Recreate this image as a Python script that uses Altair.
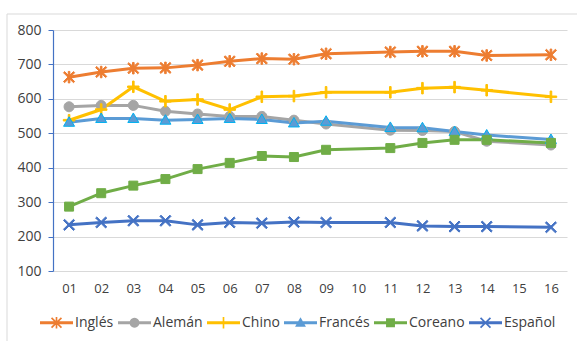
import math
import altair as alt
import pandas as pd

# ---------------- data ----------------
years = ["01", "02", "03", "04", "05", "06", "07", "08", "09", "10",
         "11", "12", "13", "14", "15", "16"]
data_years = ["01", "02", "03", "04", "05", "06", "07", "08", "09",
              "11", "12", "13", "14", "16"]
series = ["Inglés", "Alemán", "Chino", "Francés", "Coreano", "Español"]

ingles = [663, 678, 689, 690, 698, 709, 717, 715, 731, 736, 738, 738, 726, 728]
aleman = [577, 581, 581, 564, 556, 549, 549, 538, 527, 509, 508, 505, 477, 466]
chino = [538, 569, 635, 593, 598, 569, 606, 608, 619, 619, 631, 634, 625, 606]
frances = [532, 543, 543, 538, 540, 543, 540, 530, 535, 517, 516, 505, 495, 482]
coreano = [287, 326, 348, 367, 396, 414, 434, 431, 452, 457, 472, 481, 481, 472]
espanol = [234, 241, 246, 246, 234, 241, 239, 242, 241, 241, 231, 229, 229, 227]

y_ticks = [100, 200, 300, 400, 500, 600, 700, 800]

colors = ["#ED7D31", "#A5A5A5", "#FFC000", "#5B9BD5", "#70AD47", "#4472C4"]
outline = ["#ED7D31", "#A5A5A5", "#FFC000", "#00B0F0", "#70AD47", "#4472C4"]

rows = []
for name, vals in zip(series, [ingles, aleman, chino, frances, coreano, espanol]):
    for yr, v in zip(data_years, vals):
        rows.append({"Año": yr, "Idioma": name, "valor": v})
df = pd.DataFrame(rows)

# ---------------- marker paths (all filled, clockwise) ----------------
def f(v):
    return f"{v:.3f}"

def poly(pts):
    return "M" + " L".join(f"{f(x)},{f(y)}" for x, y in pts) + " Z"

def rect(x0, y0, x1, y1):
    return poly([(x0, y0), (x1, y0), (x1, y1), (x0, y1)])

def diag1(d, t):
    a = t / math.sqrt(2)
    return poly([(-d - a, -d + a), (-d + a, -d - a), (d + a, d - a), (d - a, d + a)])

def diag2(d, t):
    a = t / math.sqrt(2)
    return poly([(-d - a, d - a), (d - a, -d - a), (d + a, -d + a), (-d + a, d + a)])

def circle(r, n=24):
    return poly([(r * math.cos(2 * math.pi * i / n), r * math.sin(2 * math.pi * i / n)) for i in range(n)])

def marker(kind, r, t):
    if kind == "star":
        return diag1(r, t) + " " + diag2(r, t) + " " + rect(-t, -1.15 * r, t, 1.15 * r)
    if kind == "circle":
        return circle(r)
    if kind == "plus":
        return rect(-t, -1.15 * r, t, 1.15 * r) + " " + rect(-1.15 * r, -t, 1.15 * r, t)
    if kind == "triangle":
        return poly([(0, -1.1 * r), (1.1 * r, 0.8 * r), (-1.1 * r, 0.8 * r)])
    if kind == "square":
        return rect(-0.9 * r, -0.9 * r, 0.9 * r, 0.9 * r)
    if kind == "x":
        return diag1(r, t) + " " + diag2(r, t)

kinds = ["star", "circle", "plus", "triangle", "square", "x"]
point_paths = [marker(k, 1.0, 0.16) for k in kinds]
legend_paths = [rect(-1, -0.09, 1, 0.09) + " " + marker(k, 0.3, 0.05) for k in kinds]

FONT = "Open Sans"
TXT = "#404040"

x_enc = alt.X("Año:O",
              scale=alt.Scale(domain=years, type="point", padding=0.5),
              axis=alt.Axis(title=None, labelAngle=0, domain=False, ticks=False, grid=False,
                            labelFont=FONT, labelFontSize=13, labelColor=TXT, labelPadding=11))
y_enc = alt.Y("valor:Q",
              scale=alt.Scale(domain=[100, 800], nice=False, zero=False),
              axis=alt.Axis(title=None, values=y_ticks, domainColor="#4472C4", domainWidth=1.2,
                            tickColor="#4472C4", tickSize=5, gridColor="#D9D9D9", gridWidth=1,
                            labelFont=FONT, labelFontSize=14, labelColor=TXT, labelPadding=7))

frame = alt.Chart(alt.Data(values=[{}])).mark_rect(
    fill="white", fillOpacity=0, stroke="#D9D9D9", strokeWidth=1
).encode(x=alt.value(-46), x2=alt.value(700), y=alt.value(-16), y2=alt.value(500))

lines = alt.Chart(df).mark_line(strokeWidth=3).encode(
    x=x_enc, y=y_enc,
    color=alt.Color("Idioma:N", scale=alt.Scale(domain=series, range=colors), legend=None),
    detail="Idioma:N",
)

points = alt.Chart(df).mark_point(filled=True, opacity=1, size=100, strokeWidth=1).encode(
    x=x_enc, y=y_enc,
    color=alt.Color("Idioma:N", scale=alt.Scale(domain=series, range=colors), legend=None),
    stroke=alt.Stroke("Idioma:N", scale=alt.Scale(domain=series, range=outline), legend=None),
    shape=alt.Shape("Idioma:N", scale=alt.Scale(domain=series, range=point_paths), legend=None),
)

legend_layer = alt.Chart(df).transform_filter("datum.valor < 0").mark_point(
    filled=True, opacity=1, size=1089
).encode(
    x=x_enc, y=y_enc,
    color=alt.Color("Idioma:N", scale=alt.Scale(domain=series, range=colors),
                    legend=alt.Legend(title=None, orient="none", legendX=-13, legendY=276,
                                      direction="horizontal", columns=6, symbolSize=1089,
                                      symbolStrokeWidth=0, symbolOpacity=1,
                                      labelFont=FONT, labelFontSize=14, labelColor=TXT,
                                      labelOffset=2, columnPadding=4, padding=0)),
    shape=alt.Shape("Idioma:N", scale=alt.Scale(domain=series, range=legend_paths),
                    legend=alt.Legend(title=None, orient="none", legendX=-13, legendY=276,
                                      direction="horizontal", columns=6, symbolSize=1089,
                                      symbolStrokeWidth=0, symbolOpacity=1,
                                      labelFont=FONT, labelFontSize=14, labelColor=TXT,
                                      labelOffset=2, columnPadding=4, padding=0)),
)

chart = alt.layer(frame, lines, points, legend_layer).resolve_scale(
    color="independent", shape="independent", stroke="independent"
).properties(
    width=514, height=241,
    padding={"left": 53, "top": 30, "right": 10, "bottom": 70},
    autosize=alt.AutoSizeParams(type="none"),
    background="white",
).configure_view(stroke=None)

chart.save("out.html", embed_options={"renderer": "svg", "actions": False})
